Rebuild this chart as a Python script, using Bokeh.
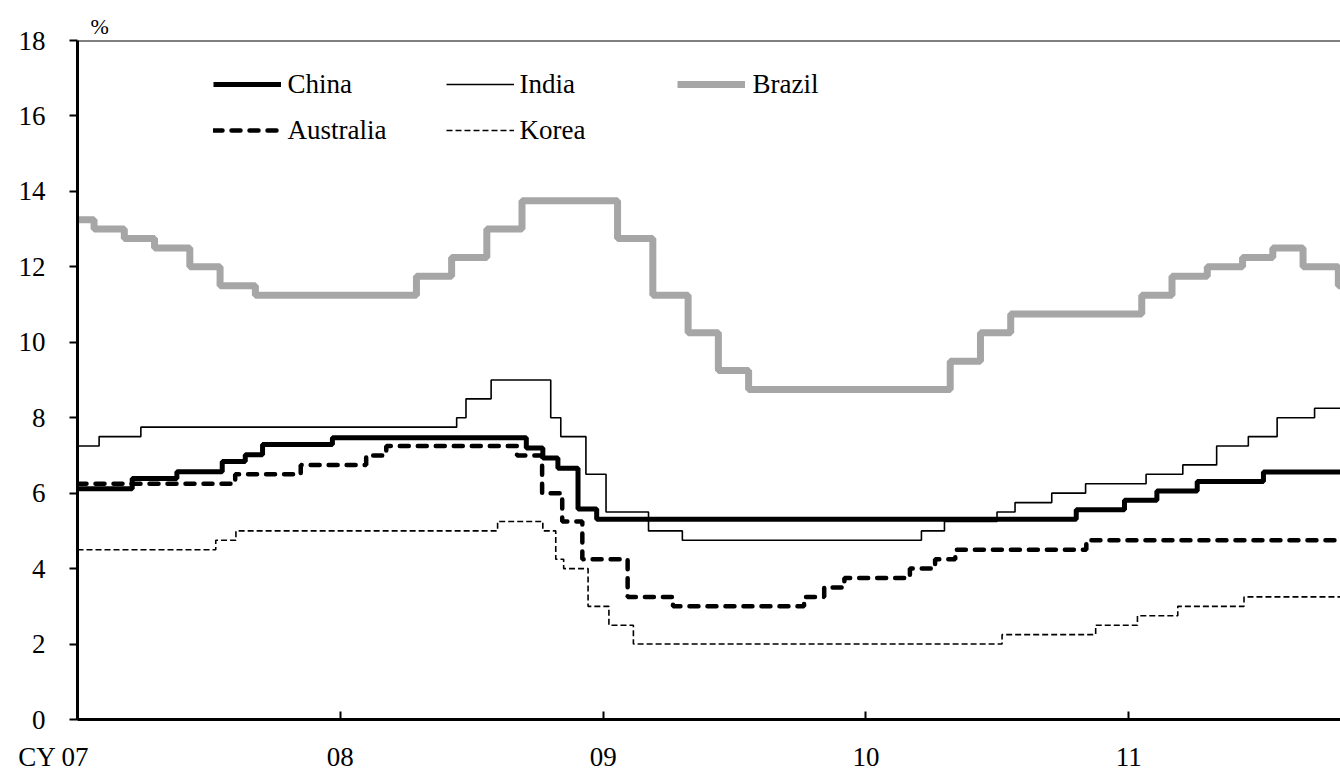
import pandas as pd
from bokeh.plotting import figure
from bokeh.models import Range1d, FixedTicker, Legend, LegendItem, Span, Title, ColumnDataSource
from bokeh.core.properties import value
from bokeh.embed import file_html
from bokeh.resources import INLINE

# ---------------- data (policy rates, %) ----------------
china_dates = ["2007-01-01", "2007-03-18", "2007-05-19", "2007-07-21", "2007-08-22",
               "2007-09-15", "2007-12-21", "2008-09-16", "2008-10-09", "2008-10-30",
               "2008-11-27", "2008-12-23", "2010-10-20", "2010-12-26", "2011-02-09",
               "2011-04-06", "2011-07-07", "2011-10-31"]
china_vals = [6.12, 6.39, 6.57, 6.84, 7.02, 7.29, 7.47, 7.20, 6.93, 6.66,
              5.58, 5.31, 5.56, 5.81, 6.06, 6.31, 6.56, 6.56]

india_dates = ["2007-01-01", "2007-01-31", "2007-03-30", "2008-06-11", "2008-06-24",
               "2008-07-29", "2008-10-20", "2008-11-03", "2008-12-08", "2009-01-05",
               "2009-03-05", "2009-04-21", "2010-03-19", "2010-04-20", "2010-07-02",
               "2010-07-27", "2010-09-16", "2010-11-02", "2011-01-25", "2011-03-17",
               "2011-05-03", "2011-06-16", "2011-07-26", "2011-09-16", "2011-10-31"]
india_vals = [7.25, 7.5, 7.75, 8.0, 8.5, 9.0, 8.0, 7.5, 6.5, 5.5,
              5.0, 4.75, 5.0, 5.25, 5.5, 5.75, 6.0, 6.25, 6.5, 6.75,
              7.25, 7.5, 8.0, 8.25, 8.25]

brazil_dates = ["2007-01-01", "2007-01-24", "2007-03-07", "2007-04-18", "2007-06-06",
                "2007-07-18", "2007-09-05", "2008-04-16", "2008-06-04", "2008-07-23",
                "2008-09-10", "2009-01-21", "2009-03-11", "2009-04-29", "2009-06-10",
                "2009-07-22", "2010-04-28", "2010-06-09", "2010-07-21", "2011-01-19",
                "2011-03-02", "2011-04-20", "2011-06-08", "2011-07-20", "2011-08-31",
                "2011-10-19", "2011-10-31"]
brazil_vals = [13.25, 13.0, 12.75, 12.5, 12.0, 11.5, 11.25, 11.75, 12.25, 13.0,
               13.75, 12.75, 11.25, 10.25, 9.25, 8.75, 9.5, 10.25, 10.75, 11.25,
               11.75, 12.0, 12.25, 12.5, 12.0, 11.5, 11.5]

australia_dates = ["2007-01-01", "2007-08-08", "2007-11-07", "2008-02-06", "2008-03-05",
                   "2008-09-03", "2008-10-08", "2008-11-05", "2008-12-03", "2009-02-04",
                   "2009-04-08", "2009-10-07", "2009-11-04", "2009-12-02", "2010-03-03",
                   "2010-04-07", "2010-05-05", "2010-11-03", "2011-10-31"]
australia_vals = [6.25, 6.5, 6.75, 7.0, 7.25, 7.0, 6.0, 5.25, 4.25, 3.25,
                  3.0, 3.25, 3.5, 3.75, 4.0, 4.25, 4.5, 4.75, 4.75]

korea_dates = ["2007-01-01", "2007-07-12", "2007-08-09", "2008-08-07", "2008-10-09",
               "2008-10-27", "2008-11-07", "2008-12-11", "2009-01-09", "2009-02-12",
               "2010-07-09", "2010-11-16", "2011-01-13", "2011-03-10", "2011-06-10",
               "2011-10-31"]
korea_vals = [4.5, 4.75, 5.0, 5.25, 5.0, 4.25, 4.0, 3.0, 2.5, 2.0,
              2.25, 2.5, 2.75, 3.0, 3.25, 3.25]

series_names = ["China", "India", "Brazil", "Australia", "Korea"]
x_ticks = [2007, 2008, 2009, 2010, 2011]
x_tick_labels = ["CY 07", "08", "09", "10", "11"]
y_ticks = [0, 2, 4, 6, 8, 10, 12, 14, 16, 18]
x_start, x_end = "2007-01-01", "2011-10-22"


def to_year(dates):
    d = pd.to_datetime(pd.Series(dates))
    days = 365 + d.dt.is_leap_year.astype(int)
    return (d.dt.year + (d.dt.dayofyear - 1) / days).tolist()


FONT = "serif"
FS = "27px"

p = figure(width=1340, height=774, output_backend="svg", toolbar_location=None,
           x_range=Range1d(to_year([x_start])[0], to_year([x_end])[0]),
           y_range=Range1d(0, 18),
           min_border_left=77, min_border_right=0, min_border_top=40, min_border_bottom=53)
p.outline_line_color = None
p.xgrid.visible = False
p.ygrid.visible = False
p.background_fill_color = "white"
p.border_fill_color = "white"

# axes
p.yaxis.ticker = FixedTicker(ticks=y_ticks)
p.yaxis.axis_line_width = 3
p.yaxis.axis_line_color = "black"
p.yaxis.major_tick_out = 8
p.yaxis.major_tick_in = 0
p.yaxis.major_tick_line_width = 2
p.yaxis.minor_tick_line_color = None
p.yaxis.major_label_text_font = FONT
p.yaxis.major_label_text_font_size = FS
p.yaxis.major_label_text_color = "black"
p.yaxis.major_label_standoff = 24

p.xaxis.ticker = FixedTicker(ticks=x_ticks)
p.xaxis.axis_line_width = 3
p.xaxis.axis_line_color = "black"
p.xaxis.major_tick_out = 0
p.xaxis.major_tick_in = 8
p.xaxis.major_tick_line_width = 2
p.xaxis.minor_tick_line_color = None
p.xaxis.major_label_text_font = FONT
p.xaxis.major_label_text_font_size = FS
p.xaxis.major_label_text_color = "black"
p.xaxis.major_label_standoff = 22
overrides = {t: lab for t, lab in zip(x_ticks, x_tick_labels)}
# first label sits left of its tick, as in the original
overrides[x_ticks[0]] = x_tick_labels[0] + "\u00a0" * 7
p.xaxis.major_label_overrides = overrides

p.add_layout(Span(location=18, dimension="width", line_color="black", line_width=2))

# unit label above the plot
p.add_layout(Title(text="%", align="left", offset=13, standoff=4,
                   text_font=FONT, text_font_size="22px", text_font_style="normal",
                   text_color="black"), "above")

# series
r_china = p.step(to_year(china_dates), china_vals, mode="after",
                 line_color="black", line_width=5)
r_india = p.step(to_year(india_dates), india_vals, mode="after",
                 line_color="black", line_width=1.6)
r_brazil = p.step(to_year(brazil_dates), brazil_vals, mode="after",
                  line_color="#A6A6A6", line_width=7)
r_aus = p.step(to_year(australia_dates), australia_vals, mode="after",
               line_color="black", line_width=4.5, line_dash="9 9", line_cap="round")
r_korea = p.step(to_year(korea_dates), korea_vals, mode="after",
                 line_color="black", line_width=1.6, line_dash="6 3")


# legend: glyph samples from Bokeh legends, serif texts drawn beside them
def make_legend(renderers, loc):
    return Legend(items=[LegendItem(label=" ", renderers=[r]) for r in renderers],
                  location=loc, orientation="vertical",
                  padding=0, margin=0, spacing=14,
                  glyph_width=68, glyph_height=32, label_height=32,
                  label_standoff=0, border_line_color=None,
                  background_fill_alpha=0, label_text_font_size="1px")


p.add_layout(make_legend([r_china, r_aus], (136, 573)))
p.add_layout(make_legend([r_india, r_korea], (369, 573)))
p.add_layout(make_legend([r_brazil], (600, 619)))

# legend text layout (pixel offsets from the left axis, rows in axis units)
row_y = {"China": 16.84, "India": 16.84, "Brazil": 16.84, "Australia": 15.62, "Korea": 15.62}
col_px = {"China": 210, "Australia": 210, "India": 442, "Korea": 442, "Brazil": 675}
leg_src = ColumnDataSource(dict(
    x=[x_ticks[0]] * len(series_names),
    y=[row_y[n] for n in series_names],
    dx=[col_px[n] for n in series_names],
    text=series_names))
p.text(x="x", y="y", x_offset="dx", text="text", source=leg_src,
       text_font=value(FONT), text_font_size=value(FS), text_color="black",
       text_align="left", text_baseline="middle")

open("out.html", "w").write(file_html(p, INLINE))
